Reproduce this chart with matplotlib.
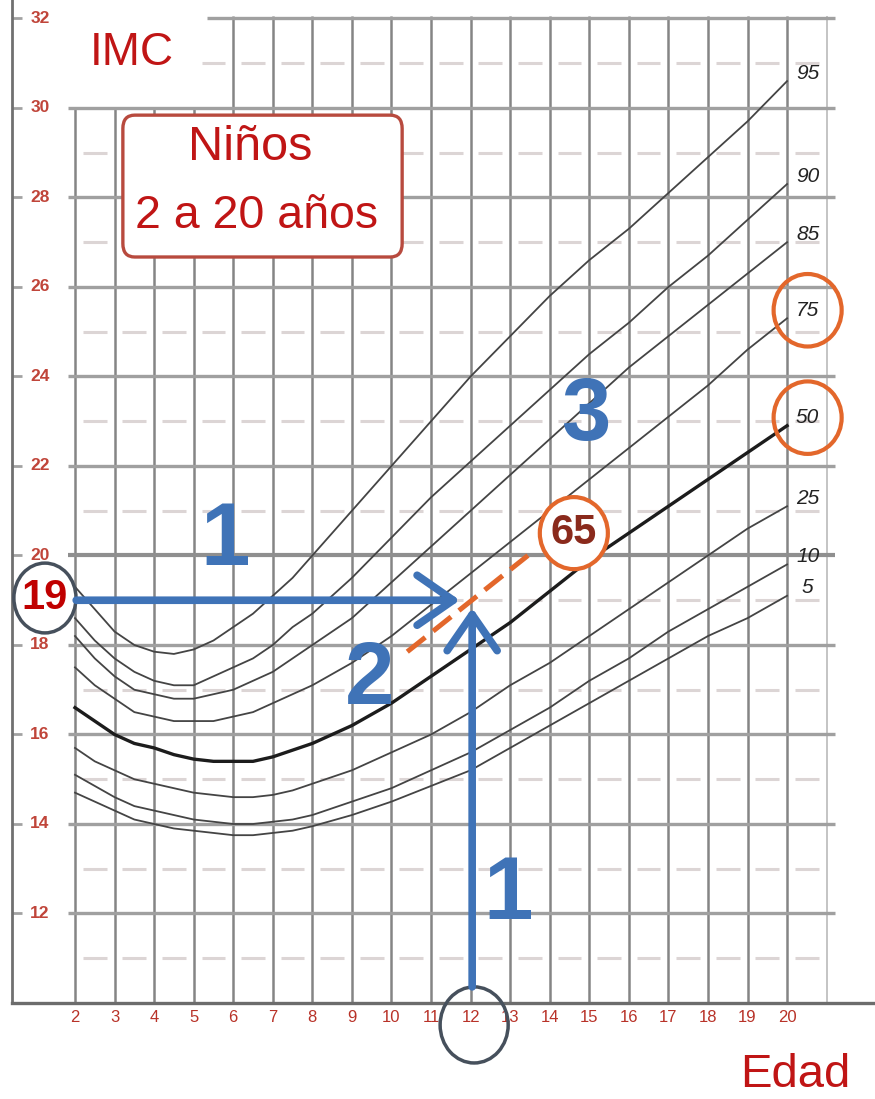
import matplotlib
matplotlib.use("Agg")
import matplotlib.pyplot as plt
import numpy as np
from matplotlib.patches import Ellipse, FancyBboxPatch

plt.rcParams["font.family"] = ["Liberation Sans", "DejaVu Sans"]

# BMI-for-age percentile curves, boys 2-20 years
ages = [2, 2.5, 3, 3.5, 4, 4.5, 5, 5.5, 6, 6.5, 7, 7.5, 8,
        9, 10, 11, 12, 13, 14, 15, 16, 17, 18, 19, 20]
p5 = [14.7, 14.5, 14.3, 14.1, 14.0, 13.9, 13.85, 13.8, 13.75, 13.75, 13.8, 13.85, 13.95,
      14.2, 14.5, 14.85, 15.2, 15.7, 16.2, 16.7, 17.2, 17.7, 18.2, 18.6, 19.1]
p10 = [15.1, 14.85, 14.6, 14.4, 14.3, 14.2, 14.1, 14.05, 14.0, 14.0, 14.05, 14.1, 14.2,
       14.5, 14.8, 15.2, 15.6, 16.1, 16.6, 17.2, 17.7, 18.3, 18.8, 19.3, 19.8]
p25 = [15.7, 15.4, 15.2, 15.0, 14.9, 14.8, 14.7, 14.65, 14.6, 14.6, 14.65, 14.75, 14.9,
       15.2, 15.6, 16.0, 16.5, 17.1, 17.6, 18.2, 18.8, 19.4, 20.0, 20.6, 21.1]
p50 = [16.6, 16.3, 16.0, 15.8, 15.7, 15.55, 15.45, 15.4, 15.4, 15.4, 15.5, 15.65, 15.8,
       16.2, 16.7, 17.3, 17.9, 18.5, 19.2, 19.9, 20.5, 21.1, 21.7, 22.3, 22.9]
p75 = [17.5, 17.1, 16.8, 16.5, 16.4, 16.3, 16.3, 16.3, 16.4, 16.5, 16.7, 16.9, 17.1,
       17.6, 18.2, 18.9, 19.6, 20.3, 21.0, 21.7, 22.4, 23.1, 23.8, 24.6, 25.3]
p85 = [18.2, 17.7, 17.3, 17.0, 16.9, 16.8, 16.8, 16.9, 17.0, 17.2, 17.4, 17.7, 18.0,
       18.6, 19.4, 20.2, 21.0, 21.8, 22.6, 23.4, 24.2, 24.9, 25.6, 26.3, 27.0]
p90 = [18.6, 18.1, 17.7, 17.4, 17.2, 17.1, 17.1, 17.3, 17.5, 17.7, 18.0, 18.4, 18.7,
       19.5, 20.4, 21.3, 22.1, 22.9, 23.7, 24.5, 25.2, 26.0, 26.7, 27.5, 28.3]
p95 = [19.3, 18.8, 18.3, 18.0, 17.85, 17.8, 17.9, 18.1, 18.4, 18.7, 19.1, 19.5, 20.0,
       21.0, 22.0, 23.0, 24.0, 24.9, 25.8, 26.6, 27.3, 28.1, 28.9, 29.7, 30.6]
curves = [p5, p10, p25, p50, p75, p85, p90, p95]
curve_labels = ["5", "10", "25", "50", "75", "85", "90", "95"]
circled_labels = ["75", "50"]

age_ticks = list(range(2, 21))
bmi_ticks = list(range(12, 33, 2))

# worked example: 12 years, BMI 19 -> percentile 65
example_age = 12
example_bmi = 19
example_pct = "65"

RED = "#c01515"
BLUE = "#3f73b7"
ORANGE = "#e3672b"
DARK = "#46505c"

fig = plt.figure(figsize=(8.75, 10.99), dpi=100)
ax = fig.add_axes([12 / 875, 96 / 1099, 863 / 875, 1003 / 1099])
ax.set_xlim(0.4075, 22.223)
ax.set_ylim(10, 32.413)
for s in ["top", "right"]:
    ax.spines[s].set_visible(False)
ax.spines["left"].set_color("#707070")
ax.spines["left"].set_linewidth(2)
ax.spines["bottom"].set_color("#6c6c6c")
ax.spines["bottom"].set_linewidth(2.4)

# grid
for a in age_ticks:
    top = 30 if a <= 5 else 32.05
    ax.vlines(a, 10, top, color="#858585", lw=1.8, zorder=1)
ax.vlines(21, 10, 32.05, color="#c4c4c4", lw=1.4, zorder=1)
for v in bmi_ticks:
    x0 = 5.34 if v == 32 else 1.82
    ax.hlines(v, x0, 21.21, color="#8f8f8f" if v == 20 else "#a0a0a0",
              lw=3.0 if v == 20 else 2.4, zorder=1)
    ax.hlines(v, 0.41, 0.66, color="#a2a2a2", lw=2.0, zorder=1)
cells = np.arange(2, 21)
for v in range(11, 32, 2):
    c = cells if v < 31 else cells[cells >= 5]
    ax.hlines(np.full(len(c), v), c + 0.2, c + 0.8, color="#dcd5d5", lw=2.2, zorder=1)

# percentile curves
for vals, lab in zip(curves, curve_labels):
    thick = lab == "50"
    ax.plot(ages, vals, color="#1c1c1c" if thick else "#444444",
            lw=2.4 if thick else 1.3, zorder=3)
    ax.text(ages[-1] + 0.52, vals[-1] + 0.18, lab, fontsize=15, style="italic",
            color="#222222", ha="center", va="center", zorder=6)
    if lab in circled_labels:
        ax.add_patch(Ellipse((ages[-1] + 0.52, vals[-1] + 0.18), 1.72, 1.62, fill=False,
                             ec=ORANGE, lw=3, zorder=6, clip_on=False))

# tick labels
ax.set_xticks(age_ticks)
ax.set_xticklabels([str(a) for a in age_ticks], color="#b83228", fontsize=12)
ax.tick_params(axis="x", length=0, pad=5)
ax.set_yticks([])
for v in bmi_ticks:
    ax.text(1.115, v, str(v), color="#c0453a", fontsize=12.5, fontweight="bold",
            ha="center", va="center", zorder=2)

# titles
ax.text(3.44, 31.23, "IMC", color=RED, fontsize=33, ha="center", va="center")
ax.text(20.2, 8.39, "Edad", color=RED, fontsize=34, ha="center", va="center", clip_on=False)
box = FancyBboxPatch((3.21, 26.67), 7.06, 3.17, boxstyle="round,pad=0,rounding_size=0.3",
                     fc="white", ec="#b84a3e", lw=2.4, zorder=4)
ax.add_patch(box)
ax.text(6.42, 29.11, "Niños", color=RED, fontsize=35, ha="center", va="center", zorder=5)
ax.text(6.6, 27.59, "2 a 20 años", color=RED, fontsize=33.5, ha="center", va="center", zorder=5)

# worked example
ax.add_patch(Ellipse((1.24, example_bmi + 0.05), 1.57, 1.56, fc="white", ec=DARK, lw=2.5,
                     zorder=7, clip_on=False))
ax.text(1.24, example_bmi + 0.05, str(example_bmi), color="#c00000", fontsize=30,
        fontweight="bold", ha="center", va="center", zorder=8)
ax.add_patch(Ellipse((example_age + 0.09, 9.51), 1.72, 1.70, fill=False, ec=DARK, lw=2.5,
                     zorder=7, clip_on=False))
ax.annotate("", xy=(example_age - 0.27, example_bmi), xytext=(2.03, example_bmi),
            arrowprops=dict(arrowstyle="->,head_length=1.3,head_width=0.9", color=BLUE,
                            lw=5.5, shrinkA=0, shrinkB=0, mutation_scale=20), zorder=8)
ax.annotate("", xy=(example_age + 0.04, example_bmi - 0.17), xytext=(example_age + 0.04, 10.36),
            arrowprops=dict(arrowstyle="->,head_length=1.3,head_width=0.9", color=BLUE,
                            lw=5.5, shrinkA=0, shrinkB=0, mutation_scale=20), zorder=8)
ax.plot([example_age - 1.6, example_age + 1.45], [example_bmi - 1.15, example_bmi + 1.0],
        color=ORANGE, lw=3.6, dashes=(4.6, 2.0), zorder=9)
ax.add_patch(Ellipse((14.61, 20.5), 1.72, 1.61, fc="white", ec=ORANGE, lw=3, zorder=9))
ax.text(14.61, 20.5, example_pct, color="#8a2a1c", fontsize=30, fontweight="bold",
        ha="center", va="center", zorder=10)

# step numbers
for txt, x, y in [("1", 5.8, 20.3), ("1", 12.95, 12.4), ("2", 9.45, 17.2), ("3", 14.92, 23.1)]:
    ax.text(x, y, txt, color=BLUE, fontsize=64, fontweight="bold", ha="center", va="center",
            zorder=9)

fig.savefig("out.png", dpi=100)
